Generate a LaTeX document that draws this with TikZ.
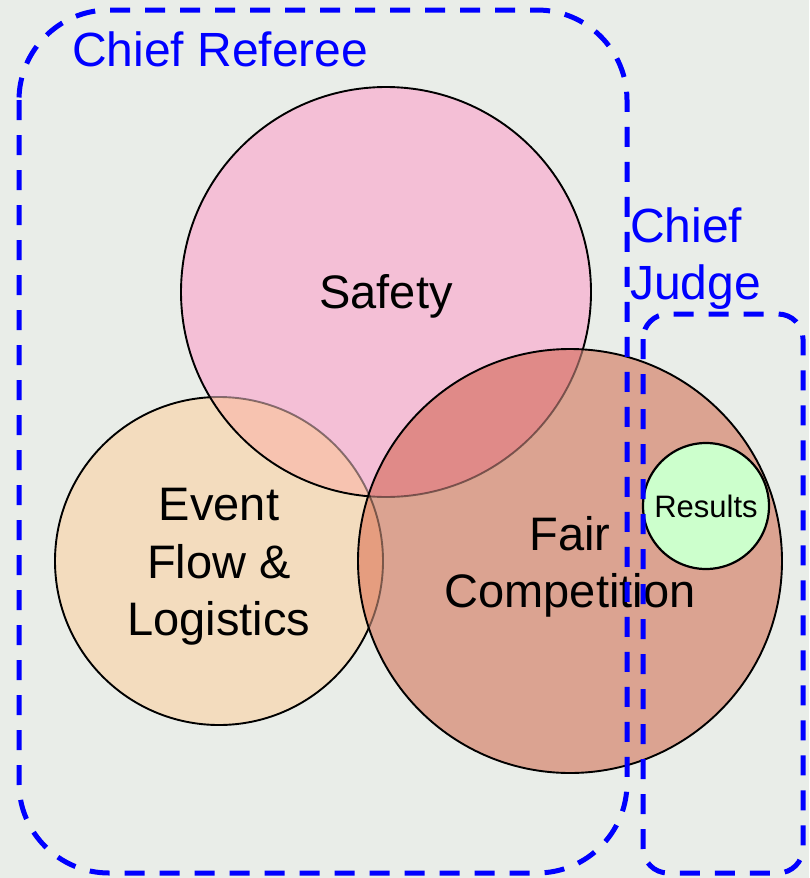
\documentclass[tikz,border=0pt]{standalone}
\usepackage{fontspec}
\setmainfont{Liberation Sans}
\definecolor{hintergrund}{HTML}{E9EDE8}
\definecolor{eventfarbe}{HTML}{F3DCBE}
\definecolor{safetyfarbe}{HTML}{F4BFD6}
\definecolor{fairfarbe}{HTML}{DBA391}
\definecolor{safetyevent}{HTML}{F7C3B0}
\definecolor{safetyfair}{HTML}{E08A88}
\definecolor{eventfair}{HTML}{E59D7F}
\definecolor{resultsfarbe}{HTML}{CCFFCC}
\begin{document}
\begin{tikzpicture}[x=1pt,y=-1pt,
    kreis/.style={draw=black, line width=1.9pt},
    blass/.style={draw=black, draw opacity=0.45, line width=1.9pt},
    rahmen/.style={draw=blue, line width=5pt, dash pattern=on 20pt off 15pt},
    etikett/.style={text=blue, font=\fontsize{48}{57}\selectfont, inner sep=0pt},
    feld/.style={font=\fontsize{47}{57.5}\selectfont, align=center, inner sep=0pt}]

    % Hintergrund
    \fill[hintergrund] (0,0) rectangle (809,878);
    \useasboundingbox (0,0) rectangle (809,878);

    % Mittelpunkte
    \coordinate (event) at (219,561);
    \coordinate (safety) at (386,292);
    \coordinate (fair) at (570,561);
    \coordinate (results) at (706,506);

    % Event Flow & Logistics
    \fill[eventfarbe] (event) circle[radius=164];
    \draw[kreis] (event) circle[radius=164];

    % Safety
    \begin{scope}
        \clip (safety) circle[radius=205];
        \fill[safetyfarbe] (safety) circle[radius=205];
        \begin{scope}
            \clip (event) circle[radius=164];
            \fill[safetyevent] (safety) circle[radius=205];
        \end{scope}
        \draw[blass] (event) circle[radius=164];
    \end{scope}
    \draw[kreis] (safety) circle[radius=205];

    % Fair Competition
    \begin{scope}
        \clip (fair) circle[radius=212];
        \fill[fairfarbe] (fair) circle[radius=212];
        \begin{scope}
            \clip (safety) circle[radius=205];
            \fill[safetyfair] (fair) circle[radius=212];
        \end{scope}
        \begin{scope}
            \clip (event) circle[radius=164];
            \fill[eventfair] (fair) circle[radius=212];
        \end{scope}
        \draw[blass] (safety) circle[radius=205];
        \draw[blass] (event) circle[radius=164];
    \end{scope}
    \draw[kreis] (fair) circle[radius=212];

    % Results
    \draw[kreis, fill=resultsfarbe, line width=2.2pt] (results) circle[radius=63];

    % Beschriftung
    \node[feld] (safetytext) at (386,296) {Safety};
    \node[feld] (eventtext) at (219,567) {Event\\Flow \&\\Logistics};
    \node[feld] (fairtext) at (570,567) {Fair\\Competition};
    \node[feld, font=\fontsize{31}{37}\selectfont] (resultstext) at (706,506) {Results};

    % Zustaendigkeiten
    \draw[rahmen, rounded corners=90pt] (19,10) rectangle (627,873);
    \draw[rahmen, rounded corners=25pt] (643,314) rectangle (803,873);
    \node[etikett, anchor=base west] (referee) at (72,66) {Chief Referee};
    \node[etikett, anchor=north west, align=left] (judge) at (630,208) {Chief\\Judge};
\end{tikzpicture}
\end{document}
